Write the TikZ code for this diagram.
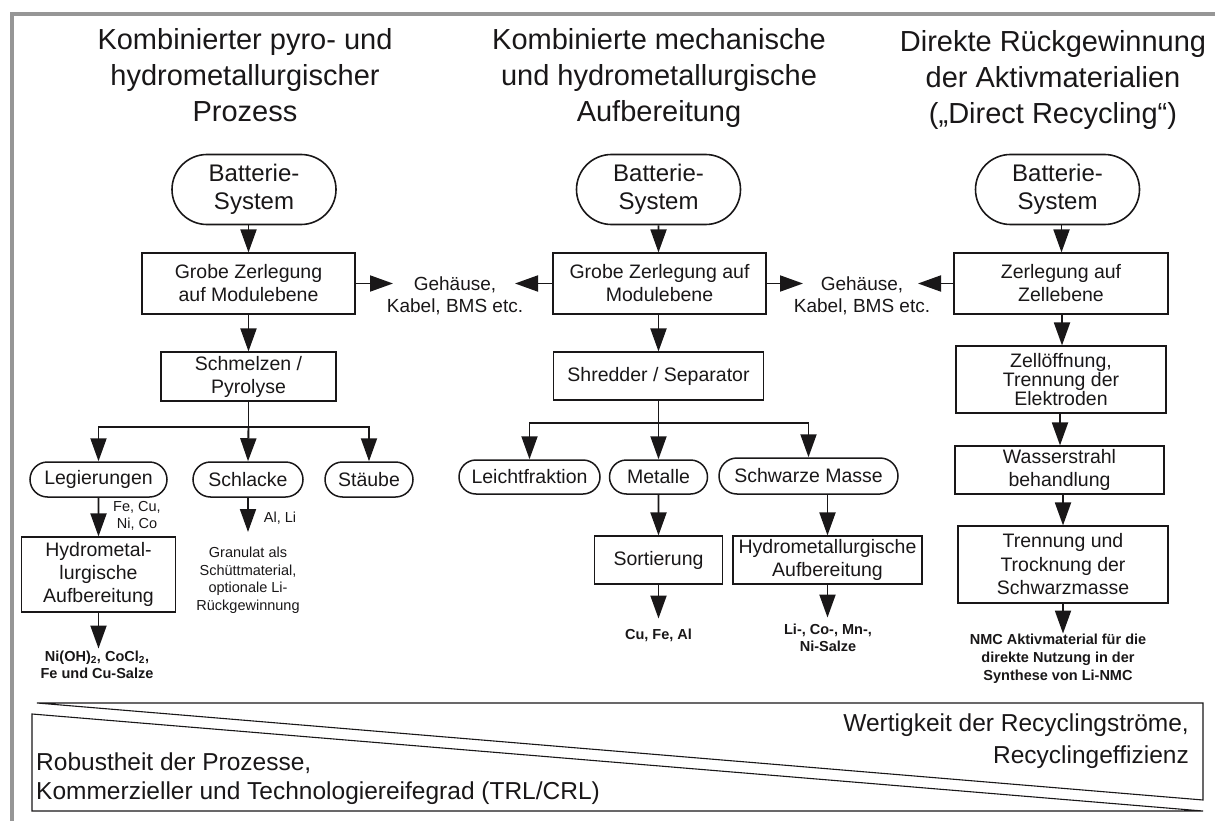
\documentclass[tikz,border=0pt]{standalone}
\usepackage{fontspec}
\setmainfont{Liberation Sans}
\usetikzlibrary{arrows.meta,shapes.misc}
\definecolor{ink}{RGB}{25,23,24}
\definecolor{framegray}{RGB}{150,150,150}
\tikzset{
  every node/.style={text=ink, inner sep=0pt},
  ttl/.style={align=center, font=\fontsize{29}{36}\selectfont},
  term/.style={rounded rectangle, draw=ink, line width=1.6pt, align=center, font=\fontsize{24}{28}\selectfont, minimum width=164pt, minimum height=70pt},
  box/.style={draw=ink, line width=1.1pt, align=center, font=\fontsize{19.5}{23}\selectfont},
  pill/.style={rounded rectangle, draw=ink, line width=1.5pt, font=\fontsize{19.5}{23}\selectfont, minimum height=35pt},
  side/.style={align=center, font=\fontsize{19}{22}\selectfont},
  small/.style={align=center, font=\fontsize{14.5}{17.5}\selectfont},
  res/.style={align=center, font=\bfseries\fontsize{14.5}{17.5}\selectfont},
  arr/.style={draw=ink, line width=1.9pt, -{Triangle[length=23pt,width=16pt]}},
  ln/.style={draw=ink, line width=1.9pt},
  wedge/.style={draw=ink, line width=1.1pt},
}
\begin{document}
\begin{tikzpicture}[x=1pt,y=-1pt]
\useasboundingbox (0,0) rectangle (1215,821);
% frame
\draw[framegray, line width=3.5pt] (12,821) -- (12,14) -- (1215,14);

% titles
\node[ttl] (t1) at (245,75) {Kombinierter pyro- und\\hydrometallurgischer\\Prozess};
\node[ttl] (t2) at (659,78) {Kombinierte mechanische\\und hydrometallurgische\\Aufbereitung};
\node[ttl] (t3) at (1053,80) {Direkte Rückgewinnung\\der Aktivmaterialien\\(„Direct Recycling“)};

% ---------- column 1 ----------
\node[term] (b1) at (254,189.5) {Batterie-\\System};
\node[box, minimum width=213pt, minimum height=61pt] (g1) at (248.5,283.5) {Grobe Zerlegung\\auf Modulebene};
\node[box, minimum width=175pt, minimum height=49pt] (s1) at (248.5,376.5) {Schmelzen /\\Pyrolyse};
\node[pill, minimum width=137pt] (leg) at (98.5,479.5) {Legierungen};
\node[pill, minimum width=110pt] (sch) at (248,479.5) {Schlacke};
\node[pill, minimum width=88pt] (sta) at (369,479.5) {Stäube};
\node[box, minimum width=154pt, minimum height=75pt] (hy1) at (98.5,574.5) {Hydrometal-\\lurgische\\Aufbereitung};
\node[small] (feni) at (137,516) {Fe, Cu,\\Ni, Co};
\node[small] (alli) at (280,518) {Al, Li};
\node[small] (gran) at (248,580) {Granulat als\\Schüttmaterial,\\optionale Li-\\Rückgewinnung};
\node[res] (o1) at (97,665) {Ni(OH)\textsubscript{2}, CoCl\textsubscript{2},\\Fe und Cu-Salze};
\coordinate (j1) at (248.5,427);
\coordinate (schend) at (248,532);

\draw[arr] (g1.north |- b1.south) -- (g1.north);
\draw[arr] (g1) -- (s1);
\draw[ln] (s1.south) -- (j1);
\draw[arr] (j1) -| (leg.north);
\draw[arr] (j1) -- (sch.north);
\draw[arr] (j1) -| (sta.north);
\draw[arr] (leg) -- (hy1);
\draw[arr] (sch.south) -- (schend);
\draw[arr] (hy1.south) -- ++(0,36);

% ---------- side texts ----------
\node[side] (geh1) at (455,296) {Gehäuse,\\Kabel, BMS etc.};
\node[side] (geh2) at (862,296) {Gehäuse,\\Kabel, BMS etc.};
\coordinate (a1) at (393,283.5);
\coordinate (a2) at (515,283.5);
\coordinate (a3) at (803,283.5);
\coordinate (a4) at (918,283.5);

% ---------- column 2 ----------
\node[term] (b2) at (658.5,189.5) {Batterie-\\System};
\node[box, minimum width=213pt, minimum height=61pt] (g2) at (659.5,283.5) {Grobe Zerlegung auf\\Modulebene};
\node[box, minimum width=210pt, minimum height=48pt] (s2) at (658.5,376) {Shredder / Separator};
\node[pill, minimum width=141pt, minimum height=34pt] (lei) at (529.5,477) {Leichtfraktion};
\node[pill, minimum width=98pt, minimum height=34pt] (met) at (658.5,477) {Metalle};
\node[pill, minimum width=179pt, minimum height=36pt] (swm) at (808.5,476) {Schwarze Masse};
\node[box, minimum width=128pt, minimum height=48pt] (sor) at (658.5,560) {Sortierung};
\node[box, minimum width=189pt, minimum height=48pt] (hy2) at (827.5,560) {Hydrometallurgische\\Aufbereitung};
\node[res] (o2) at (658.5,635) {Cu, Fe, Al};
\node[res] (o3) at (828,638) {Li-, Co-, Mn-,\\Ni-Salze};
\coordinate (j2) at (658.5,423);

\draw[arr] (b2) -- (g2.north -| b2.south);
\draw[arr] (g2.south -| s2.north) -- (s2.north);
\draw[ln] (s2.south) -- (j2);
\draw[arr] (j2) -| (lei.north);
\draw[arr] (j2) -- (met.north);
\draw[arr] (j2) -| (swm.north);
\draw[arr] (met) -- (sor);
\draw[arr] (hy2.north |- swm.south) -- (hy2.north);
\draw[arr] (sor.south) -- ++(0,34);
\draw[arr] (hy2.south) -- ++(0,33);

\draw[arr] (g1.east) -- (a1);
\draw[arr] (g2.west) -- (a2);
\draw[arr] (g2.east) -- (a3);

% ---------- column 3 ----------
\node[term] (b3) at (1057.5,189.5) {Batterie-\\System};
\node[box, minimum width=214pt, minimum height=61pt] (z3) at (1061,283.5) {Zerlegung auf\\Zellebene};
\node[box, minimum width=210pt, minimum height=67pt, font=\fontsize{19.5}{18}\selectfont] (zo) at (1061,379.5) {Zellöffnung,\\Trennung der\\Elektroden};
\node[box, minimum width=209pt, minimum height=48pt] (ws) at (1059.5,470) {Wasserstrahl\\behandlung};
\node[box, minimum width=210pt, minimum height=77pt, font=\fontsize{19.5}{23.5}\selectfont] (tt) at (1063,564.5) {Trennung und\\Trocknung der\\Schwarzmasse};
\node[res, font=\bfseries\fontsize{14.5}{18}\selectfont] (o4) at (1058,659) {NMC Aktivmaterial für die\\direkte Nutzung in der\\Synthese von Li-NMC};

\draw[arr] (b3.south -| 1061.5,0) -- (z3.north -| 1061.5,0);
\draw[arr] (z3.south -| 1062,0) -- (zo.north -| 1062,0);
\draw[arr] (zo.south -| 1060,0) -- (ws.north -| 1060,0);
\draw[arr] (ws.south -| 1063,0) -- (tt.north -| 1063,0);
\draw[arr] (tt.south) -- ++(0,30);
\draw[arr] (z3.west) -- (a4);

% ---------- bottom wedges ----------
\draw[wedge] (37,703) -- (1203,703) -- (1203,800) -- cycle;
\draw[wedge] (32,714) -- (32,811) -- (1203,811) -- cycle;
\node[align=right, anchor=east, font=\fontsize{24.5}{31.5}\selectfont] (wert) at (1189,741) {Wertigkeit der Recyclingströme,\\Recyclingeffizienz};
\node[align=left, anchor=west, font=\fontsize{24.5}{28.5}\selectfont] (rob) at (36,778.5) {Robustheit der Prozesse,\\Kommerzieller und Technologiereifegrad (TRL/CRL)};
\end{tikzpicture}
\end{document}
